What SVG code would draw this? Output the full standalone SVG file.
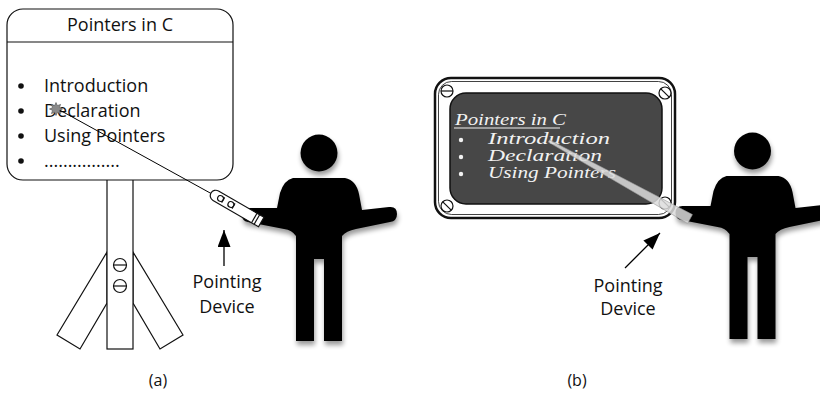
<svg xmlns="http://www.w3.org/2000/svg" width="820" height="403" viewBox="0 0 820 403">
  <style>
    .sans { font-family: "Open Sans", "Liberation Sans", sans-serif; fill: #111; }
    .line { fill: none; stroke: #111; stroke-width: 1.2; }
    .white { fill: #fff; stroke: #111; stroke-width: 1.2; }
    .chalk { font-family: "Liberation Serif", "DejaVu Serif", serif; font-style: italic; fill: #f2f2f2; font-size: 16px; }
    .figure { fill: #000; filter: url(#soft); }
  </style>
  <defs>
    <filter id="soft" x="-30%" y="-20%" width="160%" height="150%">
      <feGaussianBlur in="SourceAlpha" stdDeviation="2.5"/>
      <feOffset dx="1" dy="4" result="sh"/>
      <feComponentTransfer><feFuncA type="linear" slope="0.4"/></feComponentTransfer>
      <feMerge><feMergeNode/><feMergeNode in="SourceGraphic"/></feMerge>
    </filter>
    <marker id="head" markerUnits="userSpaceOnUse" markerWidth="18" markerHeight="13" refX="17" refY="6.5" orient="auto">
      <path d="M0,0 L17,6.5 L0,13 z" fill="#000"/>
    </marker>
    <!-- presenter silhouette: head, torso with forearms out, two legs -->
    <g id="person">
      <circle cx="319" cy="153" r="18.5"/>
      <path d="M293,178 L345,178 Q356,180 359,194 L362,210 L389,207 Q397,206 397,214 Q397,221 390,222 L356,229 Q346,231 342,236 L342,341 L324,341 L324,259 L314,259 L314,341 L296,341 L296,236 Q292,230 284,229 L248,222 Q242,221 242,215 Q242,208 249,208 L277,208 L280,193 Q284,180 293,178 Z"/>
    </g>
    <!-- screw head with slot -->
    <g id="screw-h"><circle r="6" class="white"/><line x1="-6" y1="0" x2="6" y2="0" class="line"/></g>
    <g id="screw-d"><circle r="6" class="white"/><line x1="-4.2" y1="-4.2" x2="4.2" y2="4.2" class="line"/></g>
  </defs>

  <!-- (a) flip-chart board on a stand -->
  <g id="stand">
    <polygon points="107,252 57,335 80,349 107,303" class="white"/>
    <polygon points="133,252 183,335 160,349 133,303" class="white"/>
    <rect x="107" y="178" width="26" height="171" class="white"/>
    <circle cx="120" cy="265" r="6.5" class="white"/>
    <line x1="113.5" y1="265" x2="126.5" y2="265" class="line"/>
    <circle cx="120" cy="286" r="6.5" class="white"/>
    <line x1="113.5" y1="286" x2="126.5" y2="286" class="line"/>
  </g>
  <g id="chart">
    <rect x="7" y="9" width="226" height="171" rx="16" class="white"/>
    <line x1="7" y1="42" x2="233" y2="42" class="line"/>
    <text x="120" y="31" class="sans" font-size="18" text-anchor="middle">Pointers in C</text>
    <g fill="#111">
      <circle cx="21" cy="86" r="2.8"/>
      <circle cx="21" cy="111" r="2.8"/>
      <circle cx="21" cy="136" r="2.8"/>
      <circle cx="21" cy="161" r="2.8"/>
    </g>
    <g class="sans" font-size="18">
      <text x="44" y="92">Introduction</text>
      <text x="44" y="117">Declaration</text>
      <text x="44" y="142">Using Pointers</text>
      <text x="44" y="167">................</text>
    </g>
  </g>

  <g id="presenter-a">
    <use href="#person" class="figure"/>
  </g>

  <!-- laser beam and hand-held pointer -->
  <g id="connectors">
    <line x1="56" y1="108" x2="212" y2="194" stroke="#000" stroke-width="1"/>
    <line x1="224" y1="266" x2="224" y2="230" stroke="#000" stroke-width="1.3" marker-end="url(#head)"/>
    <line x1="625" y1="268" x2="660" y2="233" stroke="#000" stroke-width="1.3" marker-end="url(#head)"/>
  </g>
  <g id="laser-spot">
    <polygon points="56,102.5 57.4,105.6 60.6,104.4 59.4,107.6 62.5,109 59.4,110.4 60.6,113.6 57.4,112.4 56,115.5 54.6,112.4 51.4,113.6 52.6,110.4 49.5,109 52.6,107.6 51.4,104.4 54.6,105.6" fill="#8a8a8a" stroke="#555" stroke-width="0.6"/>
  </g>
  <g id="pointer-a" transform="translate(211,193) rotate(30)">
    <path d="M5.5,-5.5 L58,-5.5 L58,5.5 L5.5,5.5 A5.5,5.5 0 0 1 5.5,-5.5 Z" class="white"/>
    <circle cx="11" cy="0" r="3" class="white"/>
    <circle cx="23" cy="0" r="3" class="white"/>
    <line x1="14" y1="-3" x2="14" y2="3" class="line"/>
    <line x1="26" y1="-3" x2="26" y2="3" class="line"/>
    <line x1="50" y1="-5.5" x2="50" y2="5.5" class="line"/>
    <line x1="53" y1="-5.5" x2="53" y2="5.5" class="line"/>
  </g>
  <g id="label-a">
    <text x="227" y="288" class="sans" font-size="18" text-anchor="middle">Pointing</text>
    <text x="227" y="313" class="sans" font-size="18" text-anchor="middle">Device</text>
  </g>

  <!-- (b) framed blackboard -->
  <g id="blackboard">
    <rect x="435" y="78" width="240" height="140" rx="16" fill="#fff" stroke="#111" stroke-width="2.5"/>
    <rect x="438.5" y="81.5" width="233" height="133" rx="13" fill="none" stroke="#111" stroke-width="0.8"/>
    <rect x="450" y="93" width="212" height="111" rx="16" fill="#474747" stroke="#111" stroke-width="1.5"/>
    <use href="#screw-h" x="447" y="91"/>
    <use href="#screw-d" x="665" y="93"/>
    <use href="#screw-d" x="447" y="206"/>
    <use href="#screw-d" x="665" y="203"/>
    <text x="455" y="125" class="chalk" font-size="17" textLength="111" lengthAdjust="spacingAndGlyphs">Pointers in C</text>
    <line x1="454" y1="128" x2="560" y2="128" stroke="#f2f2f2" stroke-width="1"/>
    <circle cx="461" cy="140" r="2.2" fill="#f2f2f2"/>
    <circle cx="461" cy="157" r="2.2" fill="#f2f2f2"/>
    <circle cx="461" cy="174" r="2.2" fill="#f2f2f2"/>
    <text x="488" y="144" class="chalk" textLength="122" lengthAdjust="spacingAndGlyphs">Introduction</text>
    <text x="488" y="161" class="chalk" textLength="114" lengthAdjust="spacingAndGlyphs">Declaration</text>
    <text x="488" y="178" class="chalk" textLength="128" lengthAdjust="spacingAndGlyphs">Using Pointers</text>
  </g>

  <g id="presenter-b">
    <use href="#person" class="figure" transform="translate(433.5,-2)"/>
  </g>

  <g id="pointer-b">
    <polygon points="549.6,139.9 692.4,214.6 687.6,223.4 548.4,142.1" fill="#dcdcdc" fill-opacity="0.85" stroke="#9a9a9a" stroke-width="0.6"/>
  </g>
  <g id="label-b">
    <text x="628" y="292" class="sans" font-size="18" text-anchor="middle">Pointing</text>
    <text x="628" y="315" class="sans" font-size="18" text-anchor="middle">Device</text>
  </g>

  <g id="captions">
    <text x="158" y="386" class="sans" font-size="16" text-anchor="middle">(a)</text>
    <text x="577" y="386" class="sans" font-size="16" text-anchor="middle">(b)</text>
  </g>
</svg>
